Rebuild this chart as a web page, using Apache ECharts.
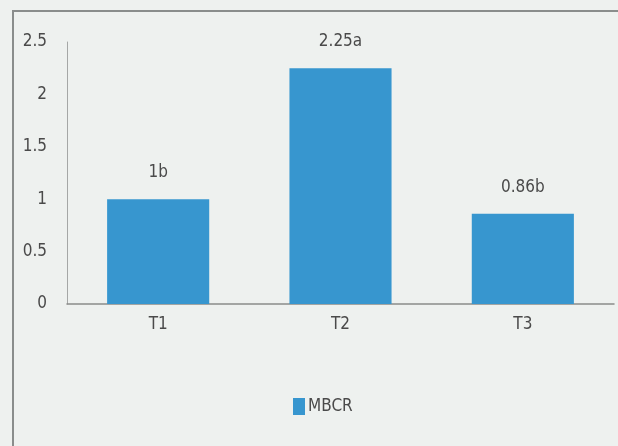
<!DOCTYPE html>
<html>
<head>
<meta charset="utf-8">
<script src="https://cdn.jsdelivr.net/npm/echarts@6/dist/echarts.min.js"></script>
<style>
html,body{margin:0;padding:0;background:#eef1ef;}
#frame{position:absolute;left:12px;top:10px;width:620px;height:450px;border-left:2px solid #8a8d8c;border-top:2px solid #8a8d8c;}
#chart{position:absolute;left:0;top:0;width:618px;height:446px;}
</style>
</head>
<body>
<div id="frame"></div>
<div id="chart"></div>
<script>
var categories = ['T1', 'T2', 'T3'];
var mbcr = [1, 2.25, 0.86];
var barLabels = ['1b', '2.25a', '0.86b'];
var yTicks = [0, 0.5, 1, 1.5, 2, 2.5];
var FONT = "'DejaVu Sans Condensed', 'Liberation Sans Narrow', sans-serif";
var chart = echarts.init(document.getElementById('chart'));
chart.setOption({
  animation: false,
  textStyle: {fontFamily: FONT},
  grid: {left: 67, right: 4, top: 42, bottom: 142, containLabel: false},
  legend: {
    data: ['MBCR'], bottom: 26, left: 288, itemWidth: 12, itemHeight: 17, itemGap: 4,
    icon: 'rect',
    textStyle: {fontFamily: FONT, fontSize: 17, color: '#4a4a4a', padding: [0,0,0,-2]}
  },
  xAxis: {
    type: 'category', data: categories,
    axisLine: {lineStyle: {color: '#8a8c8b', width: 1.5}},
    axisTick: {show: false},
    axisLabel: {fontFamily: FONT, fontSize: 17, color: '#4a4a4a', margin: 12}
  },
  yAxis: {
    type: 'value', min: 0, max: yTicks[yTicks.length - 1], interval: 0.5,
    splitLine: {show: false},
    axisLine: {show: true, lineStyle: {color: '#a5a7a6', width: 1}},
    axisTick: {show: false},
    axisLabel: {fontFamily: FONT, fontSize: 17, color: '#4a4a4a', margin: 20}
  },
  series: [{
    name: 'MBCR', type: 'bar', data: mbcr, barWidth: '56%',
    itemStyle: {color: '#3796cf'},
    label: {
      show: true, position: 'top', distance: 18,
      fontFamily: FONT, fontSize: 17, color: '#4a4a4a',
      formatter: function (p) { return barLabels[p.dataIndex]; }
    }
  }]
});
</script>
</body>
</html>
